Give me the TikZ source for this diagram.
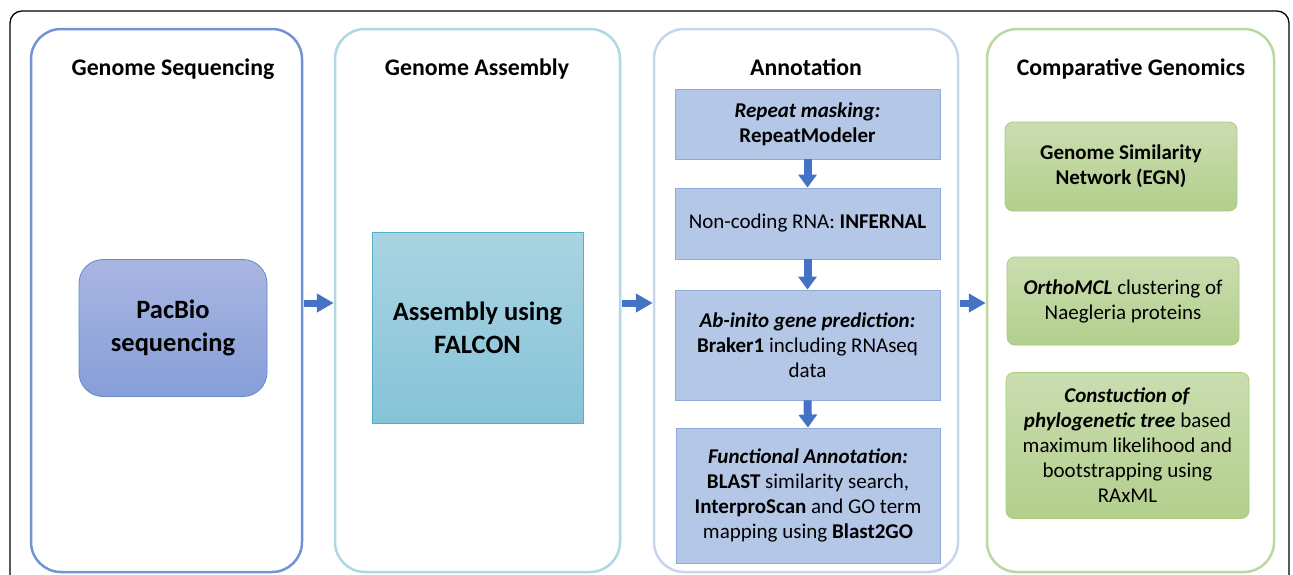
\documentclass[tikz,border=0pt]{standalone}
\usepackage{fontspec}
\setmainfont{Carlito}
\usetikzlibrary{arrows.meta}
\definecolor{pOne}{RGB}{114,147,214}
\definecolor{pTwo}{RGB}{176,216,228}
\definecolor{pThree}{RGB}{200,213,238}
\definecolor{pFour}{RGB}{186,217,162}
\definecolor{arrowBlue}{RGB}{68,114,196}
\definecolor{annFill}{RGB}{180,199,231}
\definecolor{annDraw}{RGB}{143,170,220}
\definecolor{pacTop}{RGB}{170,182,226}
\definecolor{pacBot}{RGB}{134,158,216}
\definecolor{pacDraw}{RGB}{100,136,208}
\definecolor{falTop}{RGB}{170,212,226}
\definecolor{falBot}{RGB}{134,195,216}
\definecolor{falDraw}{RGB}{84,176,200}
\definecolor{grTop}{RGB}{202,221,176}
\definecolor{grBot}{RGB}{178,207,140}
\definecolor{grDraw}{RGB}{168,206,122}
\begin{document}
\begin{tikzpicture}[x=1pt,y=-1pt,
  panel/.style={draw, line width=2.5pt, rounded corners=30pt, minimum height=543pt, inner sep=0pt},
  ptitle/.style={font=\fontsize{23.8}{28}\selectfont\bfseries, anchor=base, inner sep=0pt},
  annot/.style={draw=annDraw, fill=annFill, line width=0.8pt, minimum width=265pt, align=center,
    font=\fontsize{21}{25}\selectfont, inner sep=0pt},
  greenbox/.style={draw=grDraw, top color=grTop, bottom color=grBot, line width=0.8pt, rounded corners=8pt,
    align=center, font=\fontsize{21}{25}\selectfont, inner sep=0pt},
  bigarrow/.style={draw=arrowBlue, line width=7pt, -{Triangle[length=17pt,width=18pt]}, shorten <=0.5pt},
  downarrow/.style={draw=arrowBlue, line width=8pt, -{Triangle[length=13pt,width=18pt]}}
]
\useasboundingbox (0,0) rectangle (1293,574);
\fill[white] (0,0) rectangle (1293,574);
% outer frame
\draw[line width=1.3pt, rounded corners=12pt] (10,600) -- (10,11) -- (1289,11) -- (1289,600);

% panels
\node[panel, draw=pOne, minimum width=271pt] (P1) at (166.5,300.5) {};
\node[panel, draw=pTwo, minimum width=285pt] (P2) at (477.5,300.5) {};
\node[panel, draw=pThree, minimum width=304pt] (P3) at (806,300.5) {};
\node[panel, draw=pFour, minimum width=287pt] (P4) at (1130.5,300.5) {};

% titles
\node[ptitle] (T1) at (173,75) {Genome Sequencing};
\node[ptitle] (T2) at (477,75) {Genome Assembly};
\node[ptitle] (T3) at (806,75) {Annotation};
\node[ptitle] (T4) at (1131,75) {Comparative Genomics};

% panel 1
\node[draw=pacDraw, top color=pacTop, bottom color=pacBot, line width=0.8pt, rounded corners=24pt,
  minimum width=188pt, minimum height=137pt, align=center, inner sep=0pt,
  font=\fontsize{26.5}{33}\selectfont\bfseries] (PB) at (173,328) {PacBio\\sequencing};

% panel 2
\node[draw=falDraw, top color=falTop, bottom color=falBot, line width=0.8pt,
  minimum width=211pt, minimum height=191pt, align=center, inner sep=0pt,
  font=\fontsize{26.5}{33}\selectfont\bfseries] (FA) at (477.5,327.5) {Assembly using\\FALCON};

% panel 3
\node[annot, minimum height=70pt] (A) at (807.5,124) {\textbf{\textit{Repeat masking:}}\\\textbf{RepeatModeler}};
\node[annot, minimum height=71pt] (B) at (807.5,223.5) {Non-coding RNA: \textbf{INFERNAL}};
\node[annot, minimum height=110pt] (C) at (807.5,345) {\textbf{\textit{Ab-inito gene prediction:}}\\\textbf{Braker1} including RNAseq\\data};
\node[annot, minimum width=264pt, minimum height=135pt] (D) at (808,495.5) {\textbf{\textit{Functional Annotation:}}\\\textbf{BLAST} similarity search,\\\textbf{InterproScan} and GO term\\mapping using \textbf{Blast2GO}};

% panel 4
\node[greenbox, minimum width=232pt, minimum height=89pt, font=\fontsize{21}{25}\selectfont\bfseries] (E) at (1121,166.5) {Genome Similarity\\Network (EGN)};
\node[greenbox, minimum width=232pt, minimum height=88pt] (F) at (1123,301) {\textbf{\textit{OrthoMCL}} clustering of\\Naegleria proteins};
\node[greenbox, minimum width=243pt, minimum height=146pt] (G) at (1127.5,445.5) {\textbf{\textit{Constuction of}}\\\textbf{\textit{phylogenetic tree}} based\\maximum likelihood and\\bootstrapping using\\RAxML};

% arrows
\draw[bigarrow] ([yshift=-2.5pt]P1.east) -- ([yshift=-2.5pt]P2.west);
\draw[bigarrow] ([yshift=-2.5pt]P2.east) -- ([yshift=-2.5pt]P3.west);
\draw[bigarrow] ([yshift=-2.5pt]P3.east) -- ([yshift=-2.5pt]P4.west);
\draw[downarrow] (A.south) -- (B.north);
\draw[downarrow] (B.south) -- (C.north);
\draw[downarrow] (C.south) -- (D.north);
\end{tikzpicture}
\end{document}
